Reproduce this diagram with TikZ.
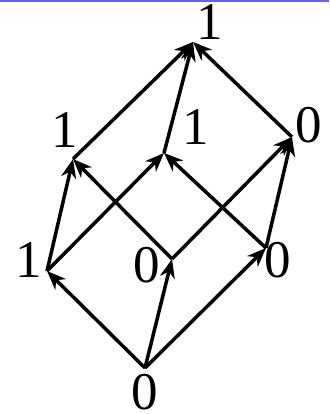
\documentclass[tikz,border=0pt]{standalone}
\usepackage{fontspec}
\setmainfont{Liberation Serif}
\usetikzlibrary{arrows.meta}
\definecolor{topbar}{RGB}{100,100,240}
\begin{document}
\begin{tikzpicture}[x=1pt,y=-1pt,
  edge/.style={line width=3.5pt,-{Stealth[length=19pt,width=15pt,inset=6pt]}},
  lbl/.style={inner sep=0pt,font=\fontsize{53}{60}\selectfont}]
\useasboundingbox (0,0) rectangle (329,414);
\fill[topbar] (0,0) rectangle (329,2.5);
% vertices
\coordinate (b) at (145,368);
\coordinate (l) at (47,271);
\coordinate (m) at (172,259);
\coordinate (r) at (266,248);
\coordinate (ul) at (73,159);
\coordinate (um) at (164,153);
\coordinate (ur) at (292,137);
\coordinate (t) at (193,42);
% labels
\node[lbl] (tb) at (145,392) {0};
\node[lbl] (tl) at (29,260) {1};
\node[lbl] (tm) at (147,265) {0};
\node[lbl] (tr) at (278,260) {0};
\node[lbl] (tul) at (65,130) {1};
\node[lbl] (tum) at (196,127) {1};
\node[lbl] (tur) at (309,125) {0};
\node[lbl] (tt) at (210,22) {1};
% edges
\draw[edge] (b) -- (l);
\draw[edge] (b) -- (m);
\draw[edge] (b) -- (r);
\draw[edge] (l) -- (ul);
\draw[edge] (l) -- (um);
\draw[edge] (m) -- (ul);
\draw[edge] (m) -- (ur);
\draw[edge] (r) -- (um);
\draw[edge] (r) -- (ur);
\draw[edge] (ul) -- (t);
\draw[edge] (um) -- (t);
\draw[edge] (ur) -- (t);
\end{tikzpicture}
\end{document}
